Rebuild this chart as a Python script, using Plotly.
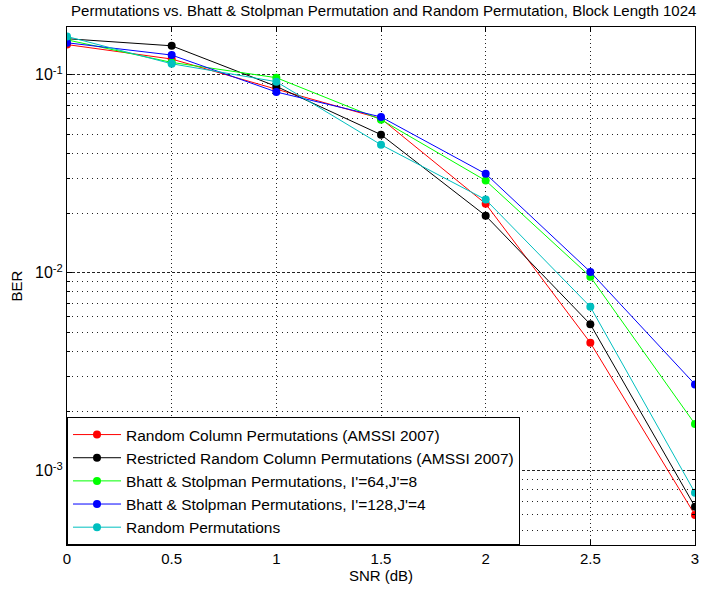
import plotly.graph_objects as go

snr = [0, 0.5, 1, 1.5, 2, 2.5, 3]

series_names = [
    "Random Column Permutations (AMSSI 2007)",
    "Restricted Random Column Permutations (AMSSI 2007)",
    "Bhatt & Stolpman Permutations, I'=64,J'=8",
    "Bhatt & Stolpman Permutations, I'=128,J'=4",
    "Random Permutations",
]
ber_random_col = [0.142, 0.120, 0.0845, 0.0600, 0.0223, 0.00443, 0.000598]
ber_restricted = [0.152, 0.140, 0.0873, 0.0498, 0.0194, 0.00549, 0.000658]
ber_bs_64_8 = [0.150, 0.1154, 0.0966, 0.0593, 0.0292, 0.00955, 0.00172]
ber_bs_128_4 = [0.145, 0.1257, 0.0818, 0.0612, 0.0316, 0.0101, 0.00273]
ber_random = [0.156, 0.1136, 0.0922, 0.0443, 0.0234, 0.00673, 0.000774]
series_values = [ber_random_col, ber_restricted, ber_bs_64_8, ber_bs_128_4, ber_random]
series_colors = ["#FF0000", "#000000", "#00FF00", "#0000FF", "#00BFBF"]

x_ticks = [0, 0.5, 1, 1.5, 2, 2.5, 3]
x_tick_text = ["0", "0.5", "1", "1.5", "2", "2.5", "3"]
y_major = [1e-3, 1e-2, 1e-1]
y_major_text = ["10<sup>-3</sup>", "10<sup>-2</sup>", "10<sup>-1</sup>"]
y_minor = [m * 10.0 ** e for e in (-4, -3, -2, -1) for m in range(2, 10)]

font_family = "Liberation Sans, Arial, sans-serif"

fig = go.Figure()
for name, vals, col in zip(series_names, series_values, series_colors):
    fig.add_trace(go.Scatter(
        x=snr, y=vals, name=name, mode="lines+markers",
        line=dict(color=col, width=1),
        marker=dict(color=col, size=8, symbol="circle"),
    ))

fig.update_layout(
    width=708, height=594,
    paper_bgcolor="white", plot_bgcolor="white",
    margin=dict(l=67, r=13, t=27, b=49, autoexpand=False),
    font=dict(family=font_family, size=15, color="black"),
    title=dict(
        text="Permutations vs. Bhatt & Stolpman Permutation and Random Permutation, Block Length 1024",
        xref="container", x=0.542, xanchor="center",
        yref="container", y=0.99, yanchor="top",
        font=dict(size=15, family=font_family),
    ),
    showlegend=True,
    legend=dict(
        x=0.0, y=0.0, xanchor="left", yanchor="bottom",
        bgcolor="white", bordercolor="black", borderwidth=1,
        font=dict(size=15.5, family=font_family),
        tracegroupgap=0, itemwidth=48,
    ),
)

fig.update_xaxes(
    range=[0, 3], tickvals=x_ticks, ticktext=x_tick_text,
    showline=True, linecolor="black", linewidth=1, mirror="ticks",
    ticks="inside", ticklen=5, tickcolor="black",
    showgrid=True, gridcolor="#222222", griddash="1px,3px", gridwidth=1,
    zeroline=False, automargin=False,
    title=dict(text="SNR (dB)", standoff=4, font=dict(size=15)),
    tickfont=dict(size=15),
)
fig.update_yaxes(
    type="log", range=[-3.375, -0.759],
    tickvals=y_major, ticktext=y_major_text,
    showline=True, linecolor="black", linewidth=1, mirror="ticks",
    ticks="inside", ticklen=5, tickcolor="black",
    showgrid=True, gridcolor="#222222", griddash="3px,2px", gridwidth=1,
    zeroline=False, automargin=False,
    minor=dict(tickvals=y_minor, ticks="inside", ticklen=3, tickcolor="black",
               showgrid=True, gridcolor="#222222", griddash="1px,4px", gridwidth=1),
    title=dict(text="BER", standoff=8, font=dict(size=15)),
    tickfont=dict(size=16),
)

fig.write_html(
    "out.html",
    config={"displayModeBar": False},
    post_script="document.body.style.margin='0';document.body.style.overflow='hidden';",
)
